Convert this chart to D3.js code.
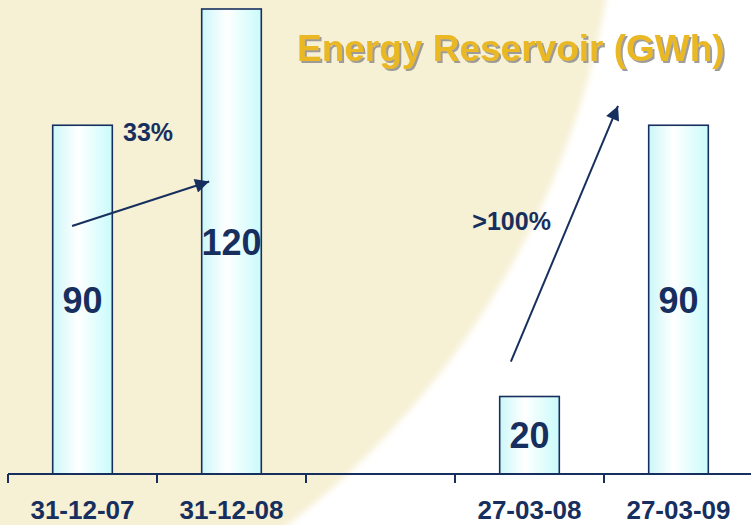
<!DOCTYPE html>
<html>
<head>
<meta charset="utf-8">
<script src="https://cdn.jsdelivr.net/npm/d3@7"></script>
<style>
  html, body { margin: 0; padding: 0; background: #fff; }
  svg { display: block; }
  text { font-family: "Liberation Sans", Arial, sans-serif; font-weight: bold; }
</style>
</head>
<body>
<div id="chart"></div>
<script>
// chart data
let categories = ["31-12-07", "31-12-08", "", "27-03-08", "27-03-09"];
let values = [90, 120, null, 20, 90];

// growth annotations: arrow from (category, band fraction, value) to (category, band fraction, value)
let growthLabels = ["33%", ">100%"];
let arrowFrom = [[0, 0.43, 64], [3, 0.375, 29]];
let arrowTo = [[1, 0.35, 75.5], [4, 0.094, 95]];
let labelAt = [[0, 0.94, 86], [3, 0.38, 63]];

let title = "Energy Reservoir (GWh)";

// svg params
let svgWidth = 751;
let svgHeight = 525;
let navy = "#172F5E";

let svg = d3.select("#chart")
    .append("svg")
    .attr("width", svgWidth)
    .attr("height", svgHeight);

let defs = svg.append("defs");

// bar fill gradient
let grad = defs.append("linearGradient")
    .attr("id", "barFill")
    .attr("x1", "0%").attr("x2", "100%")
    .attr("y1", "0%").attr("y2", "0%");
grad.append("stop").attr("offset", "0%").attr("stop-color", "#CCF7F8");
grad.append("stop").attr("offset", "42%").attr("stop-color", "#FFFFFF");
grad.append("stop").attr("offset", "100%").attr("stop-color", "#C9FBFB");

defs.append("filter")
    .attr("id", "soft")
    .attr("x", "-10%").attr("y", "-10%")
    .attr("width", "120%").attr("height", "120%")
    .append("feGaussianBlur")
    .attr("stdDeviation", 3);

// title shadow
defs.append("filter")
    .attr("id", "shadow")
    .attr("x", "-5%").attr("y", "-20%")
    .attr("width", "110%").attr("height", "140%")
    .append("feDropShadow")
    .attr("dx", 2).attr("dy", 2)
    .attr("stdDeviation", 0.6)
    .attr("flood-color", "#8C8C8C")
    .attr("flood-opacity", 0.85);

defs.append("marker")
    .attr("id", "head")
    .attr("viewBox", "0 0 10 10")
    .attr("refX", 10).attr("refY", 5)
    .attr("markerWidth", 8).attr("markerHeight", 7)
    .attr("markerUnits", "strokeWidth")
    .attr("orient", "auto")
    .append("path")
    .attr("d", "M0,0 L10,5 L0,10 Z")
    .attr("fill", navy);

// background: white with a big beige disc on the left
svg.append("rect")
    .attr("width", svgWidth).attr("height", svgHeight)
    .attr("fill", "#ffffff");
svg.append("circle")
    .attr("cx", -232).attr("cy", -149).attr("r", 851)
    .attr("fill", "#F6F0D4")
    .attr("filter", "url(#soft)");

// scales
let xScale = d3.scaleBand()
    .domain(d3.range(categories.length))
    .range([8, 8 + 149 * categories.length])
    .padding(0);

let yScale = d3.scaleLinear()
    .domain([0, 120])
    .range([474, 9]);

let bw = xScale.bandwidth();
let barWidth = bw * 0.4;

// bars
let barData = values.map((v, i) => ({ i: i, v: v })).filter(d => d.v !== null);

svg.selectAll(".bar")
    .data(barData)
    .enter()
    .append("rect")
    .attr("class", "bar")
    .attr("x", d => xScale(d.i) + (bw - barWidth) / 2)
    .attr("y", d => yScale(d.v))
    .attr("width", barWidth)
    .attr("height", d => yScale(0) - yScale(d.v))
    .attr("fill", "url(#barFill)")
    .attr("stroke", navy)
    .attr("stroke-width", 1.6);

// value labels in the middle of each bar
svg.selectAll(".valueLabel")
    .data(barData)
    .enter()
    .append("text")
    .attr("class", "valueLabel")
    .attr("x", d => xScale(d.i) + bw / 2)
    .attr("y", d => (yScale(d.v) + yScale(0)) / 2 + 13)
    .attr("text-anchor", "middle")
    .attr("font-size", 36)
    .attr("fill", navy)
    .text(d => d.v);

// x axis: line + ticks at band edges
svg.append("line")
    .attr("x1", xScale(0)).attr("x2", svgWidth)
    .attr("y1", yScale(0)).attr("y2", yScale(0))
    .attr("stroke", navy)
    .attr("stroke-width", 2);

svg.selectAll(".tick")
    .data(d3.range(categories.length))
    .enter()
    .append("line")
    .attr("class", "tick")
    .attr("x1", d => xScale(d)).attr("x2", d => xScale(d))
    .attr("y1", yScale(0)).attr("y2", yScale(0) + 9)
    .attr("stroke", navy)
    .attr("stroke-width", 2);

svg.selectAll(".catLabel")
    .data(categories)
    .enter()
    .append("text")
    .attr("class", "catLabel")
    .attr("x", (d, i) => xScale(i) + bw / 2)
    .attr("y", 519)
    .attr("text-anchor", "middle")
    .attr("font-size", 26)
    .attr("fill", navy)
    .text(d => d);

// growth arrows
let pos = p => [xScale(p[0]) + p[1] * bw, yScale(p[2])];

svg.selectAll(".arrow")
    .data(arrowFrom)
    .enter()
    .append("line")
    .attr("class", "arrow")
    .attr("x1", d => pos(d)[0])
    .attr("y1", d => pos(d)[1])
    .attr("x2", (d, i) => pos(arrowTo[i])[0])
    .attr("y2", (d, i) => pos(arrowTo[i])[1])
    .attr("stroke", navy)
    .attr("stroke-width", 2)
    .attr("marker-end", "url(#head)");

svg.selectAll(".growth")
    .data(growthLabels)
    .enter()
    .append("text")
    .attr("class", "growth")
    .attr("x", (d, i) => pos(labelAt[i])[0])
    .attr("y", (d, i) => pos(labelAt[i])[1])
    .attr("text-anchor", "middle")
    .attr("font-size", 25)
    .attr("fill", navy)
    .text(d => d);

// title
svg.append("text")
    .attr("x", 297).attr("y", 61)
    .attr("font-size", 37)
    .attr("fill", "#E9B823")
    .attr("filter", "url(#shadow)")
    .text(title);
</script>
</body>
</html>
